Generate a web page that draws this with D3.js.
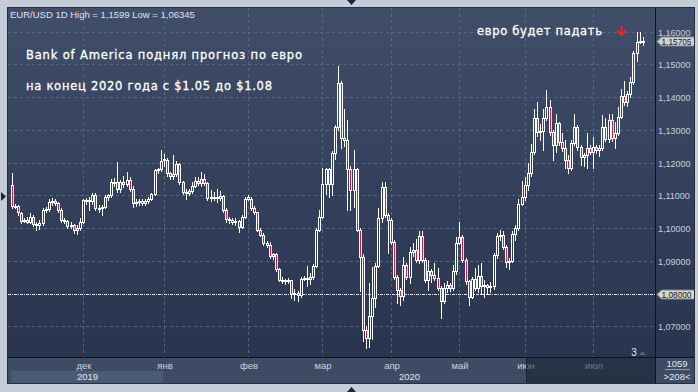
<!DOCTYPE html>
<html>
<head>
<meta charset="utf-8">
<script src="https://cdn.jsdelivr.net/npm/d3@7"></script>
<style>
    html, body { margin: 0; padding: 0; background: #c4ccd8; }
    svg { display: block; }
</style>
</head>
<body>
<script>
// EUR/USD daily candles (Nov 2019 .. Jul 2020)
const opens = [
    1.1133,1.1068,1.1068,1.1045,1.1022,1.1024,1.1020,1.1035,1.1012,1.1008,1.1015,1.1055,1.1057,1.1080,1.1082,1.1076,1.1056,1.1025,1.1022,1.1005,1.1010,1.0995,1.1000,
    1.1020,1.1085,1.1085,1.1082,1.1102,1.1062,1.1060,1.1064,1.1095,1.1100,1.1140,1.1142,1.1118,1.1140,1.1135,1.1148,1.1118,1.1078,1.1080,1.1084,1.1078,1.1082,1.1088,1.1105,1.1177,1.1180,
    1.1212,1.1207,1.1168,1.1160,1.1165,1.1195,1.1141,1.1111,1.1108,1.1112,1.1130,1.1145,1.1138,1.1150,1.1138,1.1092,1.1094,1.1096,1.1092,1.1098,1.1056,1.1027,1.1025,1.1020,1.1022,1.1003,1.1035,
    1.1090,1.1090,1.1060,1.1048,1.0995,1.0980,1.0955,1.0948,1.0915,1.0920,1.0875,1.0842,1.0840,1.0838,1.0840,1.0800,1.0802,1.0797,1.0845,1.0848,1.0843,1.0850,1.0885,1.0995,
    1.1035,1.1136,1.1180,1.1136,1.1228,1.1309,1.1444,1.1276,1.1268,1.1182,1.1115,1.1180,1.0994,1.0913,1.0690,1.0665,1.0732,1.0786,1.0883,1.1030,1.1126,1.1040,
    1.1025,1.0959,1.0852,1.0812,1.0792,1.0888,1.0852,1.0928,1.0933,1.0903,1.0976,1.0903,1.0842,1.0868,1.0857,1.0847,1.0817,1.0776,1.0817,1.0827,1.0817,1.0868,
    1.0954,1.0974,1.0903,1.0837,1.0791,1.0843,1.0817,1.0853,1.0822,1.0825,1.0820,1.0822,1.0917,1.0975,1.0980,1.0943,1.0897,1.0899,1.0983,1.1000,1.1075,
    1.1095,1.1132,1.1168,1.1233,1.1335,1.1294,1.1296,1.1335,1.1370,1.1294,1.1254,1.1320,1.1264,1.1244,1.1208,1.1183,1.1260,1.1308,1.1249,1.1216,1.1223,1.1244,
    1.1234,1.1249,1.1240,1.1244,1.1308,1.1271,1.1330,1.1274,1.1290,1.1340,1.1405,1.1386,1.1410,1.1446,1.1535,1.1570,1.1572
];
const highs = [
    1.1169,1.1075,1.1072,1.1050,1.1030,1.1035,1.1045,1.1040,1.1018,1.1025,1.1060,1.1065,1.1090,1.1092,1.1088,1.1080,1.1060,1.1030,1.1025,1.1020,1.1012,1.1008,1.1030,
    1.1090,1.1092,1.1095,1.1106,1.1108,1.1070,1.1070,1.1100,1.1105,1.1150,1.1152,1.1202,1.1148,1.1160,1.1172,1.1155,1.1128,1.1088,1.1090,1.1090,1.1090,1.1095,1.1108,1.1180,1.1185,1.1240,
    1.1225,1.1215,1.1172,1.1222,1.1205,1.1200,1.1145,1.1118,1.1120,1.1140,1.1155,1.1155,1.1172,1.1165,1.1142,1.1115,1.1110,1.1118,1.1112,1.1102,1.1060,1.1035,1.1030,1.1032,1.1026,1.1040,1.1094,
    1.1100,1.1095,1.1068,1.1050,1.1000,1.0985,1.0962,1.0959,1.0925,1.0925,1.0878,1.0850,1.0845,1.0848,1.0842,1.0815,1.0808,1.0850,1.0855,1.0885,1.0862,1.0890,1.1000,1.1055,
    1.1185,1.1185,1.1185,1.1235,1.1315,1.1496,1.1450,1.1365,1.1330,1.1190,1.1238,1.1185,1.1000,1.0920,1.0700,1.0832,1.0880,1.0893,1.1060,1.1141,1.1141,1.1045,
    1.1030,1.0965,1.0858,1.0818,1.0913,1.0893,1.0943,1.0953,1.0966,1.0990,1.0990,1.0908,1.0903,1.0875,1.0893,1.0878,1.0822,1.0832,1.0838,1.0832,1.0888,1.0974,
    1.1020,1.0980,1.0908,1.0842,1.0850,1.0878,1.0888,1.0893,1.0840,1.0830,1.0835,1.0925,1.0985,1.0995,1.0990,1.0948,1.0910,1.0990,1.1010,1.1090,1.1145,
    1.1157,1.1198,1.1258,1.1365,1.1386,1.1319,1.1365,1.1421,1.1391,1.1300,1.1350,1.1325,1.1290,1.1270,1.1224,1.1270,1.1350,1.1315,1.1255,1.1230,1.1290,1.1255,
    1.1277,1.1255,1.1254,1.1345,1.1335,1.1350,1.1350,1.1325,1.1370,1.1426,1.1450,1.1420,1.1461,1.1540,1.1600,1.1598,1.1585
];
const lows = [
    1.1062,1.1060,1.1040,1.1015,1.1018,1.1015,1.1015,1.1005,1.0995,1.0998,1.1010,1.1050,1.1052,1.1070,1.1072,1.1050,1.1018,1.1015,1.1000,1.1000,1.0985,1.0982,1.0995,
    1.1015,1.1075,1.1055,1.1075,1.1055,1.1050,1.1040,1.1060,1.1085,1.1095,1.1130,1.1110,1.1110,1.1125,1.1130,1.1112,1.1065,1.1068,1.1070,1.1072,1.1070,1.1078,1.1085,1.1100,1.1168,1.1175,
    1.1190,1.1160,1.1150,1.1150,1.1160,1.1135,1.1105,1.1088,1.1100,1.1108,1.1125,1.1132,1.1130,1.1132,1.1085,1.1082,1.1085,1.1080,1.1085,1.1050,1.1020,1.1015,1.1012,1.1010,1.0988,1.1000,1.1030,
    1.1085,1.1055,1.1042,1.0990,1.0975,1.0948,1.0942,1.0908,1.0905,1.0868,1.0838,1.0832,1.0830,1.0832,1.0785,1.0780,1.0778,1.0790,1.0840,1.0822,1.0830,1.0845,1.0880,1.0990,
    1.1030,1.1105,1.1096,1.1100,1.1210,1.1300,1.1245,1.1250,1.1055,1.1055,1.1065,1.0990,1.0807,1.0655,1.0634,1.0636,1.0660,1.0760,1.0880,1.1020,1.1035,1.0925,
    1.0950,1.0845,1.0771,1.0766,1.0780,1.0845,1.0832,1.0915,1.0895,1.0893,1.0895,1.0835,1.0812,1.0835,1.0840,1.0810,1.0726,1.0770,1.0805,1.0808,1.0810,1.0860,
    1.0950,1.0895,1.0830,1.0766,1.0785,1.0810,1.0805,1.0800,1.0790,1.0798,1.0805,1.0815,1.0910,1.0965,1.0935,1.0880,1.0875,1.0895,1.0965,1.0995,1.1070,
    1.1085,1.1115,1.1160,1.1225,1.1280,1.1270,1.1240,1.1330,1.1285,1.1208,1.1232,1.1255,1.1235,1.1183,1.1168,1.1178,1.1255,1.1240,1.1193,1.1190,1.1183,1.1225,
    1.1183,1.1230,1.1220,1.1240,1.1265,1.1264,1.1265,1.1245,1.1285,1.1335,1.1375,1.1372,1.1400,1.1440,1.1510,1.1565,1.1560
];
const closes = [
    1.1068,1.1066,1.1048,1.1022,1.1024,1.1020,1.1035,1.1012,1.1008,1.1015,1.1055,1.1057,1.1080,1.1082,1.1076,1.1056,1.1025,1.1022,1.1005,1.1010,1.0995,1.1000,1.1020,
    1.1085,1.1085,1.1082,1.1102,1.1062,1.1060,1.1064,1.1095,1.1100,1.1140,1.1142,1.1118,1.1140,1.1135,1.1148,1.1118,1.1078,1.1080,1.1084,1.1078,1.1082,1.1088,1.1105,1.1177,1.1180,1.1205,
    1.1207,1.1168,1.1160,1.1165,1.1195,1.1141,1.1111,1.1108,1.1112,1.1130,1.1145,1.1138,1.1150,1.1138,1.1092,1.1094,1.1096,1.1092,1.1098,1.1056,1.1027,1.1025,1.1020,1.1022,1.1003,1.1035,1.1090,
    1.1095,1.1060,1.1048,1.0995,1.0980,1.0955,1.0948,1.0915,1.0920,1.0875,1.0842,1.0840,1.0838,1.0840,1.0800,1.0802,1.0797,1.0845,1.0848,1.0843,1.0850,1.0885,1.0995,1.1035,
    1.1136,1.1180,1.1136,1.1228,1.1309,1.1444,1.1276,1.1268,1.1182,1.1115,1.1180,1.0994,1.0913,1.0690,1.0665,1.0732,1.0786,1.0883,1.1030,1.1126,1.1040,1.1025,
    1.0959,1.0852,1.0812,1.0792,1.0888,1.0852,1.0928,1.0933,1.0903,1.0976,1.0903,1.0842,1.0868,1.0857,1.0847,1.0817,1.0776,1.0817,1.0827,1.0817,1.0868,1.0954,
    1.0974,1.0903,1.0837,1.0791,1.0843,1.0817,1.0853,1.0822,1.0825,1.0820,1.0822,1.0917,1.0975,1.0980,1.0943,1.0897,1.0899,1.0983,1.1000,1.1075,1.1095,
    1.1132,1.1168,1.1233,1.1335,1.1294,1.1296,1.1335,1.1370,1.1294,1.1254,1.1320,1.1264,1.1244,1.1208,1.1183,1.1260,1.1308,1.1249,1.1216,1.1223,1.1244,1.1234,
    1.1249,1.1240,1.1244,1.1308,1.1271,1.1330,1.1274,1.1290,1.1340,1.1405,1.1386,1.1410,1.1446,1.1535,1.1570,1.1572,1.15705
];

const priceTicks = [1.07, 1.08, 1.09, 1.10, 1.11, 1.12, 1.13, 1.14, 1.15, 1.16];
const monthLabels = ["дек", "янв", "фев", "мар", "апр", "май", "июн", "июл"];
const monthStart = [23, 49, 76, 100, 122, 144, 165, 187];
const yearLabels = ["2019", "2020"];
const lastPrice = 1.15705;
const markedLevel = 1.08;

const titleText = "EUR/USD 1D High = 1,1599 Low = 1,06345";
const noteLines = [
    "Bank of America поднял прогноз по евро",
    "на конец 2020 года с $1.05 до $1.08",
];
const noteRight = "евро будет падать";

// layout
let W = 698;
let H = 392;
let plot = { left: 8, top: 8, right: 655, bottom: 357 };
let panelRight = 694;
let barBottom = 383;

const red = "#e8123e";
const uiFont = "'Liberation Sans', Arial, sans-serif";
const noteFont = "'DejaVu Sans', Verdana, sans-serif";

const fmt = (v) => d3.format(".5f")(v).replace(".", ",");

function drawChart() {
    const svg = d3
        .select("body")
        .append("svg")
        .attr("width", W)
        .attr("height", H);

    const defs = svg.append("defs");
    const grad = defs
        .append("linearGradient")
        .attr("id", "plotBg")
        .attr("gradientUnits", "userSpaceOnUse")
        .attr("x1", 0).attr("y1", plot.top)
        .attr("x2", 0).attr("y2", plot.bottom);
    grad.append("stop").attr("offset", 0).attr("stop-color", "#404e6a");
    grad.append("stop").attr("offset", 1).attr("stop-color", "#29344e");

    defs.append("clipPath")
        .attr("id", "plotClip")
        .append("rect")
        .attr("x", plot.left)
        .attr("y", plot.top)
        .attr("width", plot.right - plot.left)
        .attr("height", plot.bottom - plot.top);

    // outer frame
    svg.append("rect")
        .attr("width", W).attr("height", H)
        .attr("fill", "#c4ccd8");

    // plot + price panel
    svg.append("rect")
        .attr("x", plot.left).attr("y", plot.top)
        .attr("width", panelRight - plot.left)
        .attr("height", plot.bottom - plot.top)
        .attr("fill", "url(#plotBg)");

    // bottom bar
    svg.append("rect")
        .attr("x", plot.left).attr("y", plot.bottom)
        .attr("width", panelRight - plot.left)
        .attr("height", barBottom - plot.bottom)
        .attr("fill", "#3e4b65");

    const x = d3
        .scaleLinear()
        .domain([0, closes.length - 1])
        .range([11.5, 642.8]);
    const y = d3.scaleLinear().domain([1.07, 1.16]).range([326.3, 31.7]);

    const px = (i) => Math.round(x(i));
    const py = (v) => Math.round(y(v));

    // 2019 band under the year label
    svg.append("rect")
        .attr("x", px(0) - 1)
        .attr("y", 371)
        .attr("width", px(monthStart[1]) - px(0))
        .attr("height", barBottom - 371)
        .attr("fill", "#4b5a75");

    // grid
    const grid = svg.append("g").attr("stroke", "#58667f").attr("stroke-dasharray", "3,3");
    grid.selectAll("line.h")
        .data(priceTicks.filter((d) => d !== markedLevel))
        .join("line")
        .attr("x1", plot.left).attr("x2", plot.right)
        .attr("y1", (d) => py(d) + 0.5)
        .attr("y2", (d) => py(d) + 0.5);
    grid.selectAll("line.v")
        .data(monthStart)
        .join("line")
        .attr("x1", (d) => px(d) + 0.5)
        .attr("x2", (d) => px(d) + 0.5)
        .attr("y1", plot.top)
        .attr("y2", plot.bottom);

    svg.append("line")
        .attr("x1", plot.left).attr("x2", plot.right)
        .attr("y1", py(markedLevel) + 0.5)
        .attr("y2", py(markedLevel) + 0.5)
        .attr("stroke", "#e4e8ee")
        .attr("stroke-dasharray", "3,1,1,1");

    // candles
    const candles = closes.map((c, i) => ({
        i,
        o: opens[i],
        h: highs[i],
        l: lows[i],
        c,
    }));
    const cg = svg.append("g").attr("clip-path", "url(#plotClip)");
    cg.selectAll("line")
        .data(candles)
        .join("line")
        .attr("x1", (d) => px(d.i) + 0.5)
        .attr("x2", (d) => px(d.i) + 0.5)
        .attr("y1", (d) => py(d.h))
        .attr("y2", (d) => py(d.l) + 1)
        .attr("stroke", "#ffffff");
    cg.selectAll("rect")
        .data(candles)
        .join("rect")
        .attr("x", (d) => px(d.i) - 0.5)
        .attr("y", (d) => py(Math.max(d.o, d.c)) + 0.5)
        .attr("width", 2)
        .attr("height", (d) =>
            Math.max(1, py(Math.min(d.o, d.c)) - py(Math.max(d.o, d.c)))
        )
        .attr("fill", (d) => (d.c < d.o ? red : "url(#plotBg)"))
        .attr("stroke", "#ffffff");

    // texts on the plot
    svg.append("text")
        .attr("x", 10).attr("y", 17.5)
        .attr("font-family", uiFont).attr("font-size", "9.5px")
        .attr("fill", "#dfe4ec")
        .text(titleText);

    const noteWidths = [276, 246];
    svg.selectAll("text.note")
        .data(noteLines)
        .join("text")
        .attr("class", "note")
        .attr("x", 26)
        .attr("y", (d, i) => 58.5 + i * 31.5)
        .attr("textLength", (d, i) => noteWidths[i])
        .attr("lengthAdjust", "spacing")
        .attr("font-family", noteFont).attr("font-size", "11.5px")
        .attr("fill", "#ffffff")
        .attr("stroke", "#ffffff")
        .attr("stroke-width", 0.3)
        .text((d) => d);

    svg.append("text")
        .attr("x", 477).attr("y", 35)
        .attr("textLength", 125).attr("lengthAdjust", "spacing")
        .attr("font-family", noteFont).attr("font-size", "11.5px")
        .attr("fill", "#ffffff")
        .attr("stroke", "#ffffff")
        .attr("stroke-width", 0.3)
        .text(noteRight);

    svg.append("path")
        .attr("d", "M621.5,26V35M617,30.5L621.5,35L626,30.5")
        .attr("fill", "none")
        .attr("stroke", "#ff2020")
        .attr("stroke-width", 2);

    svg.append("text")
        .attr("x", 634).attr("y", 356)
        .attr("text-anchor", "middle")
        .attr("font-family", uiFont).attr("font-size", "10px")
        .attr("fill", "#e8ecf2")
        .text("3");
    svg.append("path")
        .attr("d", "M639,355L642.5,351L646,355Z")
        .attr("fill", "#55637c");

    // price axis (the 1.08 level is shown by its tag)
    svg.selectAll("text.price")
        .data(priceTicks.filter((d) => d !== markedLevel))
        .join("text")
        .attr("class", "price")
        .attr("x", 658)
        .attr("y", (d) => py(d) + 3.5)
        .attr("font-family", uiFont).attr("font-size", "9px")
        .attr("fill", "#c6cfdd")
        .text((d) => fmt(d));

    const tags = [
        { v: lastPrice, fill: "#cfd3d4" },
        { v: markedLevel, fill: "#d8d6c6" },
    ];
    const tg = svg.selectAll("g.tag").data(tags).join("g").attr("class", "tag");
    tg.append("path")
        .attr("d", (d) => {
            const c = py(d.v) + 0.5;
            return `M657,${c}L661.5,${c - 4.5}H694.5V${c + 4.5}H661.5Z`;
        })
        .attr("fill", (d) => d.fill)
        .attr("stroke", "#7b8490");
    tg.append("text")
        .attr("x", 661.5)
        .attr("y", (d) => py(d.v) + 3.5)
        .attr("textLength", 30)
        .attr("lengthAdjust", "spacingAndGlyphs")
        .attr("font-family", uiFont).attr("font-size", "9px")
        .attr("fill", "#141a24")
        .text((d) => fmt(d.v));

    // time axis
    svg.selectAll("text.month")
        .data(monthLabels)
        .join("text")
        .attr("class", "month")
        .attr("x", (d, i) => px(monthStart[i]) + 1)
        .attr("y", 369)
        .attr("text-anchor", "middle")
        .attr("font-family", uiFont).attr("font-size", "9.5px")
        .attr("fill", "#cbd3df")
        .text((d) => d);

    const yearMid = [
        (px(0) - 1 + px(monthStart[1])) / 2,
        (px(monthStart[1]) + plot.right) / 2,
    ];
    svg.selectAll("text.year")
        .data(yearLabels)
        .join("text")
        .attr("class", "year")
        .attr("x", (d, i) => yearMid[i])
        .attr("y", 380)
        .attr("text-anchor", "middle")
        .attr("font-family", uiFont).attr("font-size", "9.5px")
        .attr("fill", "#e2e7ee")
        .text((d) => d);

    // darker scroll region over the last weeks
    const scrollX = px(monthStart[6]) + 1;
    svg.append("rect")
        .attr("x", scrollX).attr("y", plot.bottom + 1)
        .attr("width", plot.right - scrollX)
        .attr("height", barBottom - plot.bottom - 1)
        .attr("fill", "#121a2a")
        .attr("opacity", 0.5);
    svg.append("line")
        .attr("x1", scrollX + 0.5).attr("x2", scrollX + 0.5)
        .attr("y1", plot.bottom).attr("y2", barBottom)
        .attr("stroke", "#1c2436");

    // bar counter box
    svg.append("text")
        .attr("x", 677).attr("y", 367)
        .attr("text-anchor", "middle")
        .attr("font-family", uiFont).attr("font-size", "9.5px")
        .attr("fill", "#e2e7ee")
        .text("1059");
    svg.append("line")
        .attr("x1", 665).attr("x2", 690)
        .attr("y1", 369.5).attr("y2", 369.5)
        .attr("stroke", "#8e9ab0");
    svg.append("text")
        .attr("x", 677).attr("y", 380)
        .attr("text-anchor", "middle")
        .attr("font-family", uiFont).attr("font-size", "9.5px")
        .attr("fill", "#e2e7ee")
        .text(">208<");

    // panel borders
    const borders = svg.append("g").attr("stroke", "#0e1219");
    borders.append("line")
        .attr("x1", plot.right + 0.5).attr("x2", plot.right + 0.5)
        .attr("y1", plot.top).attr("y2", barBottom);
    borders.append("line")
        .attr("x1", plot.left).attr("x2", panelRight)
        .attr("y1", plot.bottom + 0.5).attr("y2", plot.bottom + 0.5);
    const outer = svg.append("g").attr("stroke", "#27303f");
    outer.append("line")
        .attr("x1", plot.left - 0.5).attr("x2", plot.left - 0.5)
        .attr("y1", plot.top - 1).attr("y2", barBottom + 1);
    outer.append("line")
        .attr("x1", plot.left - 1).attr("x2", panelRight + 1)
        .attr("y1", plot.top - 0.5).attr("y2", plot.top - 0.5);
    outer.append("line")
        .attr("x1", panelRight + 0.5).attr("x2", panelRight + 0.5)
        .attr("y1", plot.top - 1).attr("y2", barBottom + 1);
    outer.append("line")
        .attr("x1", plot.left - 1).attr("x2", panelRight + 1)
        .attr("y1", barBottom + 0.5).attr("y2", barBottom + 0.5);

    // frame markers
    svg.append("path").attr("d", "M347,0H356L351.5,5Z").attr("fill", "#1e2635");
    svg.append("path").attr("d", "M347,392H356L351.5,387Z").attr("fill", "#1e2635");
    svg.append("path").attr("d", "M1,192V201L6,196.5Z").attr("fill", "#1e2635");
}

drawChart();
</script>
</body>
</html>
